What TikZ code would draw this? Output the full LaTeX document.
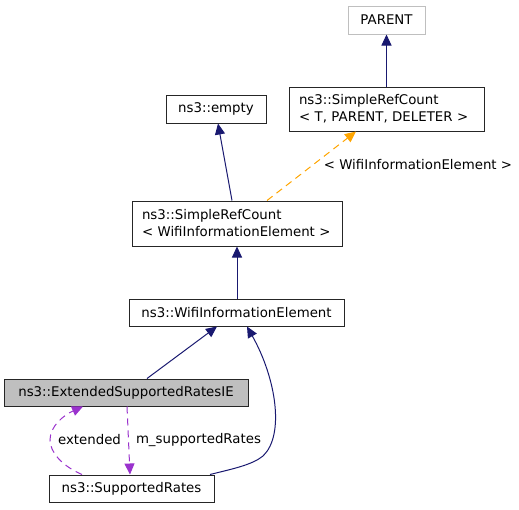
\documentclass[tikz,border=0pt]{standalone}
\usepackage{fontspec}
\setmainfont{DejaVu Sans}
\usetikzlibrary{arrows.meta}
\definecolor{navy}{HTML}{191970}
\definecolor{dorange}{HTML}{FFA500}
\definecolor{dpurple}{HTML}{9A32CD}
\definecolor{boxgray}{HTML}{BFBFBF}
\tikzset{
  box/.style={draw=black!85, line width=1pt, inner sep=0pt, minimum height=27pt, font=\fontsize{13.33}{17}\selectfont},
  mlbox/.style={box, inner xsep=10pt, align=left},
  inh/.style={draw=navy, line width=1pt, -{Triangle[length=11pt,width=10pt]}, color=navy},
  tmpl/.style={draw=dorange, line width=1pt, dash pattern=on 7pt off 5pt, -{Triangle[length=11pt,width=10pt]}, color=dorange},
  usage/.style={draw=dpurple, line width=1pt, dash pattern=on 7pt off 5pt, -{Triangle[length=11pt,width=10pt]}, color=dpurple},
  lbl/.style={font=\fontsize{13.33}{17}\selectfont, inner sep=0pt}
}
\begin{document}
\begin{tikzpicture}[x=1pt,y=-1pt]
\useasboundingbox (0,0) rectangle (519,509);
\node[box, draw=boxgray, minimum width=77pt, minimum height=28pt] (parent) at (386.5,20) {PARENT};
\node[mlbox, text width=175pt, minimum height=44pt] (srct) at (386.5,109) {ns3::SimpleRefCount\\< T, PARENT, DELETER >};
\node[box, minimum width=100pt, minimum height=28pt] (empty) at (216,109) {ns3::empty};
\node[mlbox, text width=190pt, minimum height=45pt] (srcw) at (237,223.5) {ns3::SimpleRefCount\\< WifiInformationElement >};
\node[box, minimum width=215pt] (wie) at (236.5,312.5) {ns3::WifiInformationElement};
\node[box, fill=boxgray, minimum width=244pt] (esr) at (126,392.5) {ns3::ExtendedSupportedRatesIE};
\node[box, minimum width=165pt] (sr) at (131.5,488.5) {ns3::SupportedRates};

\draw[inh] (srct.north) -- (parent.south);
\draw[inh] ([xshift=-5pt]srcw.north) -- ([xshift=2pt]empty.south);
\draw[tmpl] ([xshift=30pt]srcw.north) -- ([xshift=-30.5pt]srct.south);
\node[lbl] (tlbl) at (418,165) {< WifiInformationElement >};
\draw[inh] (wie.north -| srcw.south) -- (srcw.south);
\draw[inh] ([xshift=21pt]esr.north) -- ([xshift=-19.5pt]wie.south);
\draw[inh] ([xshift=78.5pt]sr.north) .. controls (232,469) and (252,465) .. (263,456)
  .. controls (285,435) and (276,378) .. ([xshift=10.5pt]wie.south);
\draw[usage] ([xshift=1pt]esr.south) -- ([xshift=-1.5pt]sr.north);
\draw[usage] ([xshift=-49.5pt]sr.north) .. controls (62,466) and (50,452) .. (50,440)
  .. controls (50,426) and (64,415) .. ([xshift=-43pt]esr.south);
\node[lbl] (elbl) at (89.5,440) {extended};
\node[lbl] (mlbl) at (198.5,440) {m\_supportedRates};
\end{tikzpicture}
\end{document}
